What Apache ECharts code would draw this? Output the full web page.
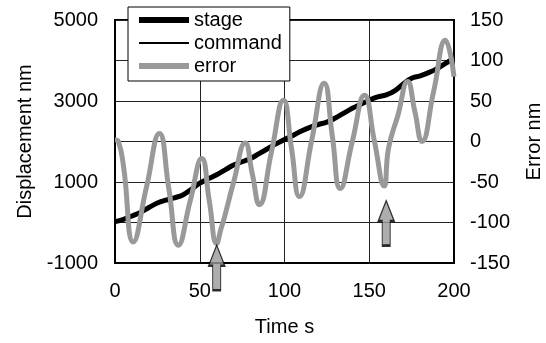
<!DOCTYPE html>
<html>
<head>
<meta charset="utf-8">
<script src="https://cdn.jsdelivr.net/npm/echarts@6/dist/echarts.min.js"></script>
<style>
  html, body { margin: 0; padding: 0; background: #fff; }
  #chart { width: 546px; height: 343px; }
</style>
</head>
<body>
<div id="chart"></div>
<script>
// displacement (stage / command), nm
const dispTime = [0, 5, 10, 15, 20, 25, 30, 35, 40, 45, 50, 55, 60, 65, 70, 75, 80, 85, 90, 95, 100,
  105, 110, 115, 120, 125, 130, 135, 140, 145, 150, 155, 160, 165, 170, 175, 180, 185, 190, 195, 200];
const stage = [20, 80, 160, 250, 370, 480, 550, 610, 680, 820, 970, 1080, 1180, 1300, 1420, 1500, 1580, 1700, 1820, 1940, 2050,
  2150, 2260, 2350, 2420, 2480, 2580, 2700, 2820, 2920, 3020, 3100, 3150, 3250, 3420, 3560, 3620, 3700, 3800, 3930, 4050];
const command = [10, 75, 155, 250, 365, 475, 550, 615, 690, 825, 965, 1080, 1185, 1300, 1415, 1500, 1585, 1700, 1815, 1935, 2045,
  2150, 2255, 2345, 2420, 2485, 2585, 2700, 2815, 2920, 3015, 3095, 3155, 3255, 3415, 3555, 3620, 3700, 3805, 3930, 4040];

// tracking error, nm
const errTime = [0, 2, 5, 10.8, 18.5, 26.2, 31.8, 37.4, 44.3, 51.2, 55.6, 60, 62.5, 64, 70, 76.8, 81, 85.2, 92.3, 99.4,
  104.1, 108.8, 116.1, 123.4, 128.2, 132.9, 140, 147.2, 153, 158.8, 161.4, 167, 172.6, 176.9, 181.1, 188, 194.9, 200];
const errVal = [2, 0, -30, -124, -57, 10, -59, -128, -74, -21, -73, -126, -108, -98, -50, -2, -40, -78, -13, 51,
  -8, -68, 2, 72, 7, -58, 0, 57, 1, -55, -8, 33, 74, 37, 0, 62, 125, 80];

// arrow annotations (time, error value at tip)
const arrowTime = [60, 160];
const arrowTip = [-128, -73];

const xTicks = [0, 50, 100, 150, 200];
const leftLabels = [-1000, 1000, 3000, 5000];

const zip = (a, b) => a.map((v, i) => [v, b[i]]);
const font = 'Liberation Sans, Arial, sans-serif';

const chart = echarts.init(document.getElementById('chart'));

const option = {
  backgroundColor: '#fff',
  animation: false,
  textStyle: { fontFamily: font, color: '#000' },
  grid: {
    left: 115, right: 92, top: 20, bottom: 80,
    outerBoundsMode: 'none',
    show: true, borderColor: '#000', borderWidth: 2
  },
  legend: {
    data: [
      { name: 'stage', lineStyle: { width: 6, color: '#000' } },
      { name: 'command', lineStyle: { width: 2, color: '#000' } },
      { name: 'error', lineStyle: { width: 6, color: '#999' } }
    ],
    orient: 'vertical',
    left: 128, top: 7,
    backgroundColor: '#fff',
    borderColor: '#000', borderWidth: 1,
    padding: [3, 8, 5, 8],
    itemGap: 3,
    itemWidth: 50, itemHeight: 14,
    itemStyle: { color: 'transparent', borderWidth: 0, opacity: 0 },
    textStyle: { fontFamily: font, fontSize: 20, color: '#000' }
  },
  xAxis: {
    type: 'value',
    min: 0, max: 200, interval: 50,
    name: 'Time s',
    nameLocation: 'middle',
    nameGap: 54,
    nameTextStyle: { fontFamily: font, fontSize: 20, color: '#000' },
    axisLine: { onZero: false, lineStyle: { color: '#000', width: 2 } },
    axisTick: { show: false },
    axisLabel: { fontFamily: font, fontSize: 20, color: '#000', margin: 18,
      formatter: v => xTicks.includes(v) ? String(v) : '' },
    splitLine: { show: true, lineStyle: { color: '#222', width: 1 } }
  },
  yAxis: [{
    type: 'value',
    min: -1000, max: 5000, interval: 1000,
    name: 'Displacement nm',
    nameLocation: 'middle',
    nameGap: 74,
    nameTextStyle: { fontFamily: font, fontSize: 20, color: '#000' },
    axisLine: { show: true, onZero: false, lineStyle: { color: '#000', width: 2 } },
    axisTick: { show: false },
    axisLabel: { fontFamily: font, fontSize: 20, color: '#000', margin: 17,
      formatter: v => leftLabels.includes(v) ? String(v) : '' },
    splitLine: { show: true, lineStyle: { color: '#222', width: 1 } }
  }, {
    type: 'value',
    min: -150, max: 150, interval: 50,
    name: 'Error nm',
    nameLocation: 'middle',
    nameGap: 70,
    nameTextStyle: { fontFamily: font, fontSize: 20, color: '#000' },
    axisLine: { show: true, onZero: false, lineStyle: { color: '#000', width: 2 } },
    axisTick: { show: false },
    axisLabel: { fontFamily: font, fontSize: 20, color: '#000', margin: 16 },
    splitLine: { show: false }
  }],
  series: [{
    name: 'command',
    type: 'line',
    data: zip(dispTime, command),
    smooth: 0.4,
    symbol: 'none',
    lineStyle: { color: '#000', width: 1.5 },
    itemStyle: { color: '#000' },
    z: 2
  }, {
    name: 'stage',
    type: 'line',
    data: zip(dispTime, stage),
    smooth: 0.4,
    symbol: 'none',
    lineStyle: { color: '#000', width: 5 },
    itemStyle: { color: '#000' },
    z: 3
  }, {
    name: 'error',
    type: 'line',
    yAxisIndex: 1,
    data: zip(errTime, errVal),
    smooth: 0.5,
    symbol: 'none',
    lineStyle: { color: '#999', width: 5 },
    itemStyle: { color: '#999' },
    z: 4
  }, {
    name: 'arrows',
    type: 'scatter',
    yAxisIndex: 1,
    data: zip(arrowTime, arrowTip),
    clip: false,
    symbol: 'path://M8,0 L16,20 L12,20 L12,44 L4,44 L4,20 L0,20 Z',
    symbolSize: [16, 45],
    symbolOffset: [0, '50%'],
    itemStyle: { color: '#999', borderColor: '#000', borderWidth: 1.5 },
    z: 5
  }]
};

chart.setOption(option);
</script>
</body>
</html>
